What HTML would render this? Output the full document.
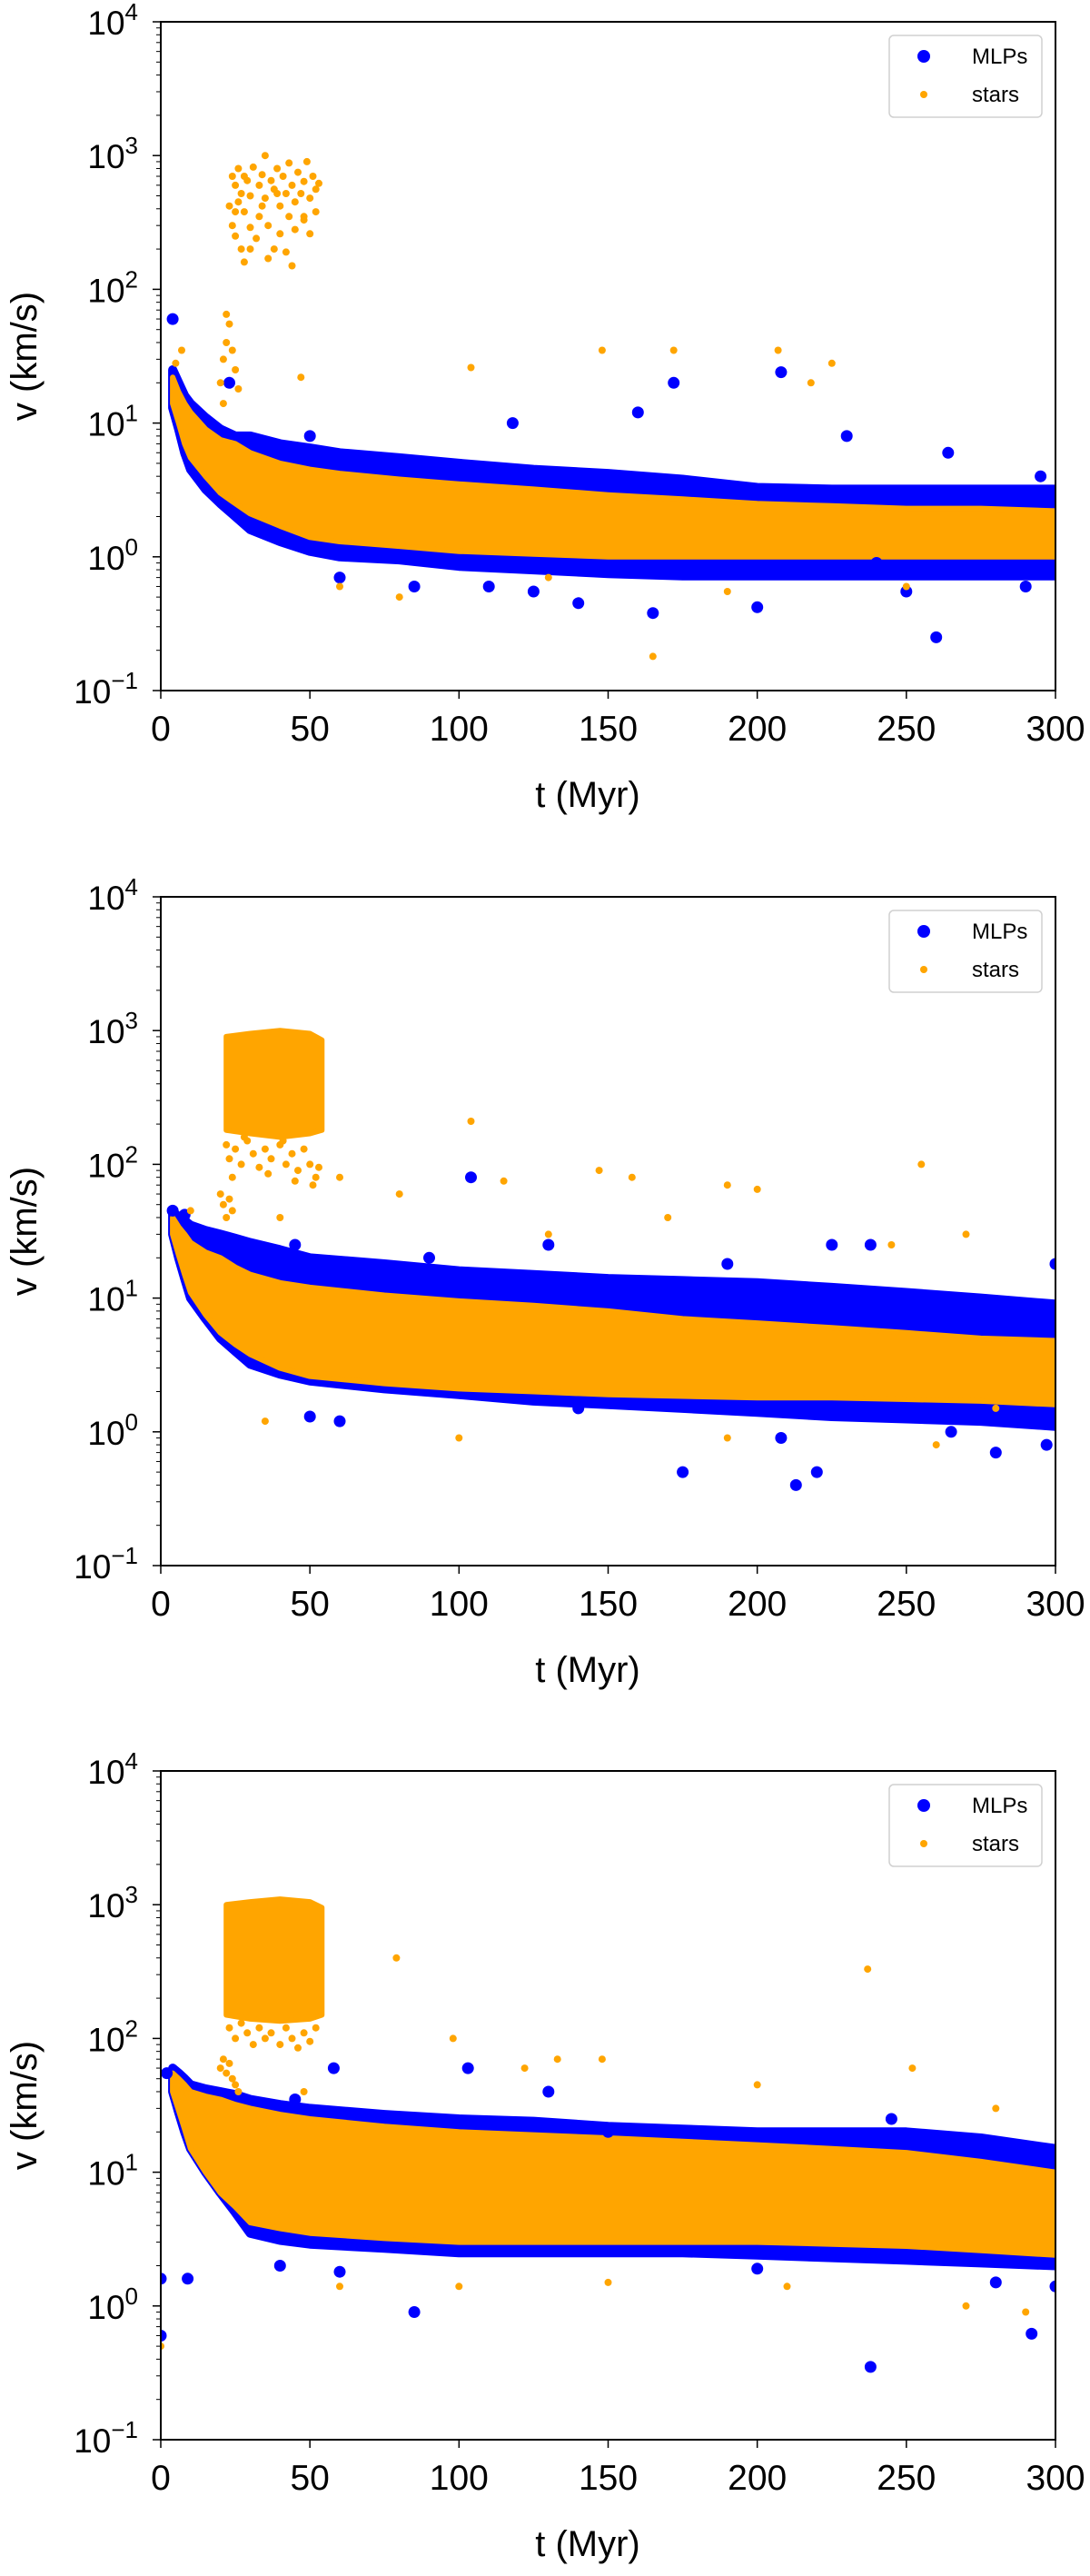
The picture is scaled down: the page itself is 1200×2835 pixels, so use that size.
<!DOCTYPE html>
<html><head><meta charset="utf-8"><style>
body{margin:0;background:#fff;}
svg{display:block;font-family:"Liberation Sans",Arial,sans-serif;}
</style></head><body>
<svg id="chart" width="1200" height="2835" viewBox="0 0 1200 2835" xmlns="http://www.w3.org/2000/svg"></svg>
<script>
// ---------- shared axis data ----------
const xTicks = [0, 50, 100, 150, 200, 250, 300];
const yDecades = [-1, 0, 1, 2, 3, 4];
const panelNames = ['panel-a', 'panel-b', 'panel-c'];

// ---------- panel 1 ----------
const p1BandT = [4, 6, 8, 10, 15, 20, 25, 30, 40, 50, 60, 80, 100, 125, 150, 175, 200, 225, 250, 275, 300];
const p1MlpLo = [13, 9, 6, 4.5, 3.2, 2.5, 2, 1.6, 1.3, 1.1, 1.0, 0.95, 0.85, 0.8, 0.75, 0.72, 0.72, 0.72, 0.72, 0.72, 0.72];
const p1MlpHi = [25, 20, 16, 14, 11, 9, 8, 8, 7, 6.5, 6, 5.5, 5, 4.5, 4.2, 3.8, 3.3, 3.2, 3.2, 3.2, 3.2];
const p1StarLo = [14, 10, 7, 5.5, 4, 3, 2.5, 2.1, 1.7, 1.4, 1.3, 1.2, 1.1, 1.05, 1.0, 1.0, 1.0, 1.0, 1.0, 1.0, 1.0];
const p1StarHi = [22, 17, 14, 12, 9, 7.5, 7, 6, 5, 4.5, 4.2, 3.8, 3.5, 3.2, 2.9, 2.7, 2.5, 2.4, 2.3, 2.3, 2.2];
const p1BurstT = [];
const p1BurstLo = [];
const p1BurstHi = [];
const p1BurstPtsT = [23,24,24,25,25,26,26,27,27,28,28,29,30,30,31,32,33,33,34,35,35,36,37,38,38,39,40,40,41,42,43,43,44,45,45,46,47,48,48,49,50,50,51,52,52,53,28,36,44,30,42,25,34,48,39];
const p1BurstPtsV = [420,700,300,600,250,800,450,520,200,700,380,650,500,290,820,240,600,350,720,480,1000,300,650,560,200,800,420,260,700,520,350,880,600,450,280,750,520,640,350,900,480,260,700,560,380,620,160,170,150,200,190,380,420,330,520];
const p1MlpOutT = [4, 172, 208, 260, 165, 140, 200, 110, 85, 230, 264, 160, 118, 50, 100, 250, 290, 300, 295, 240, 23, 125, 60];
const p1MlpOutV = [60, 20, 24, 0.25, 0.38, 0.45, 0.42, 0.6, 0.6, 8, 6, 12, 10, 8, 0.9, 0.55, 0.6, 2.8, 4, 0.9, 20, 0.55, 0.7];
const p1StarOutT = [165, 148, 172, 207, 225, 218, 104, 47, 60, 80, 130, 250, 7, 5, 20, 21, 22, 23, 24, 22, 25, 21, 26, 190];
const p1StarOutV = [0.18, 35, 35, 35, 28, 20, 26, 22, 0.6, 0.5, 0.7, 0.6, 35, 28, 20, 30, 40, 55, 35, 65, 25, 14, 18, 0.55];

// ---------- panel 2 ----------
const p2BandT = [4, 6, 8, 10, 15, 20, 25, 30, 40, 50, 75, 100, 125, 150, 175, 200, 225, 250, 275, 300];
const p2MlpLo = [30, 20, 14, 10, 7, 5, 4, 3.2, 2.7, 2.4, 2.1, 1.9, 1.7, 1.6, 1.5, 1.4, 1.3, 1.25, 1.2, 1.1];
const p2MlpHi = [45, 40, 38, 35, 32, 30, 28, 26, 23, 20, 18, 16, 15, 14, 13.5, 13, 12, 11, 10, 9];
const p2StarLo = [30, 21, 15, 11, 7.5, 5.5, 4.5, 3.8, 3.0, 2.6, 2.3, 2.1, 2.0, 1.9, 1.85, 1.8, 1.8, 1.75, 1.7, 1.6];
const p2StarHi = [40, 34, 30, 26, 22, 20, 17, 15, 13, 12, 10.5, 9.5, 8.8, 8, 7, 6.5, 6, 5.5, 5, 4.8];
const p2BurstT = [22, 30, 40, 50, 54];
const p2BurstLo = [180, 170, 160, 170, 180];
const p2BurstHi = [900, 950, 1000, 950, 850];
const p2BurstPtsT = [22, 23, 25, 27, 29, 31, 33, 35, 37, 40, 42, 44, 46, 48, 50, 52, 53, 24, 36, 45, 51, 28, 41, 20, 21, 22, 23, 24];
const p2BurstPtsV = [140, 110, 130, 100, 150, 120, 95, 130, 110, 140, 100, 120, 90, 130, 100, 80, 95, 80, 85, 75, 70, 160, 150, 60, 50, 40, 55, 45];
const p2MlpOutT = [104, 175, 213, 220, 208, 280, 297, 265, 60, 50, 140, 28, 45, 90, 130, 225, 238, 190, 300, 4, 8];
const p2MlpOutV = [80, 0.5, 0.4, 0.5, 0.9, 0.7, 0.8, 1.0, 1.2, 1.3, 1.5, 25, 25, 20, 25, 25, 25, 18, 18, 45, 42];
const p2StarOutT = [104, 147, 158, 60, 115, 190, 200, 255, 80, 40, 130, 170, 245, 270, 260, 190, 100, 35, 280, 10];
const p2StarOutV = [210, 90, 80, 80, 75, 70, 65, 100, 60, 40, 30, 40, 25, 30, 0.8, 0.9, 0.9, 1.2, 1.5, 45];

// ---------- panel 3 ----------
const p3BandT = [4, 6, 8, 10, 15, 20, 25, 30, 40, 50, 75, 100, 125, 150, 175, 200, 225, 250, 275, 300];
const p3MlpLo = [40, 28, 20, 15, 10, 7, 5, 3.5, 3.1, 2.9, 2.7, 2.5, 2.5, 2.5, 2.5, 2.4, 2.3, 2.2, 2.1, 2.0];
const p3MlpHi = [60, 55, 50, 45, 42, 40, 38, 35, 32, 30, 27, 25, 24, 22, 21, 20, 20, 20, 18, 15];
const p3StarLo = [40, 29, 21, 15, 10, 7, 5.5, 4.2, 3.8, 3.5, 3.2, 3.0, 3.0, 3.0, 3.0, 3.0, 2.9, 2.8, 2.6, 2.4];
const p3StarHi = [55, 50, 45, 40, 37, 35, 32, 30, 27, 25, 22, 20, 19, 18, 17, 16, 15, 14, 12, 10];
const p3BurstT = [22, 30, 40, 50, 54];
const p3BurstLo = [150, 140, 135, 140, 150];
const p3BurstHi = [1000, 1050, 1100, 1050, 950];
const p3BurstPtsT = [23, 25, 27, 29, 31, 33, 35, 37, 40, 42, 44, 46, 48, 50, 52, 20, 21, 22, 23, 24, 25, 26];
const p3BurstPtsV = [120, 100, 130, 110, 90, 120, 100, 110, 90, 120, 100, 85, 110, 95, 120, 60, 70, 55, 65, 50, 45, 40];
const p3MlpOutT = [0, 0, 9, 238, 292, 85, 58, 103, 45, 130, 245, 150, 300, 280, 200, 40, 60, 2];
const p3MlpOutV = [1.6, 0.6, 1.6, 0.35, 0.62, 0.9, 60, 60, 35, 40, 25, 20, 1.4, 1.5, 1.9, 2.0, 1.8, 55];
const p3StarOutT = [79, 237, 0, 98, 133, 148, 122, 200, 252, 280, 48, 60, 100, 270, 290, 210, 150];
const p3StarOutV = [400, 330, 0.5, 100, 70, 70, 60, 45, 60, 30, 40, 1.4, 1.4, 1.0, 0.9, 1.4, 1.5];

const panels = [
  {top: 24, bandT: p1BandT, mlpLo: p1MlpLo, mlpHi: p1MlpHi, starLo: p1StarLo, starHi: p1StarHi, burstT: p1BurstT, burstLo: p1BurstLo, burstHi: p1BurstHi, bpT: p1BurstPtsT, bpV: p1BurstPtsV, moT: p1MlpOutT, moV: p1MlpOutV, soT: p1StarOutT, soV: p1StarOutV},
  {top: 987, bandT: p2BandT, mlpLo: p2MlpLo, mlpHi: p2MlpHi, starLo: p2StarLo, starHi: p2StarHi, burstT: p2BurstT, burstLo: p2BurstLo, burstHi: p2BurstHi, bpT: p2BurstPtsT, bpV: p2BurstPtsV, moT: p2MlpOutT, moV: p2MlpOutV, soT: p2StarOutT, soV: p2StarOutV},
  {top: 1949, bandT: p3BandT, mlpLo: p3MlpLo, mlpHi: p3MlpHi, starLo: p3StarLo, starHi: p3StarHi, burstT: p3BurstT, burstLo: p3BurstLo, burstHi: p3BurstHi, bpT: p3BurstPtsT, bpV: p3BurstPtsV, moT: p3MlpOutT, moV: p3MlpOutV, soT: p3StarOutT, soV: p3StarOutV}
];

const NS = 'http://www.w3.org/2000/svg';
const svg = document.getElementById('chart');
const L = 177, R = 1162, H = 736;
const BLUE = '#0000ff', ORANGE = '#ffa500';

function mk(tag, attrs, parent) {
  const e = document.createElementNS(NS, tag);
  for (const k in attrs) e.setAttribute(k, attrs[k]);
  parent.appendChild(e);
  return e;
}

panels.forEach((p, pi) => {
  const top = p.top, bottom = top + H;
  const xS = t => L + (t / 300) * (R - L);
  const yS = v => top + (4 - Math.log10(v)) / 5 * H;

  const g = mk('g', {}, svg);
  
  

  const clipId = 'clip' + pi;
  const defs = mk('defs', {}, g);
  const cp = mk('clipPath', {id: clipId}, defs);
  mk('rect', {x: L, y: top, width: R - L, height: H}, cp);
  const plot = mk('g', {'clip-path': 'url(#' + clipId + ')'}, g);
  
  

  function band(T, lo, hi, color, sw, name) {
    if (!T.length) return;
    let d = '';
    T.forEach((t, i) => { d += (i ? 'L' : 'M') + xS(t).toFixed(1) + ',' + yS(hi[i]).toFixed(1); });
    for (let i = T.length - 1; i >= 0; i--) d += 'L' + xS(T[i]).toFixed(1) + ',' + yS(lo[i]).toFixed(1);
    d += 'Z';
    const e = mk('path', {d: d, fill: color, stroke: color, 'stroke-width': sw, 'stroke-linejoin': 'round'}, plot);
    
    
  }
  function dots(T, V, r, color, name) {
    T.forEach((t, i) => {
      const c = mk('circle', {cx: xS(t).toFixed(1), cy: yS(V[i]).toFixed(1), r: r, fill: color}, plot);
      
      
    });
  }

  band(p.bandT, p.mlpLo, p.mlpHi, BLUE, 10, 'mlp-band');
  band(p.bandT, p.starLo, p.starHi, ORANGE, 6, 'stars-band');
  dots(p.moT, p.moV, 6.5, BLUE, 'mlp-point');
  band(p.burstT, p.burstLo, p.burstHi, ORANGE, 6, 'stars-burst');
  dots(p.bpT, p.bpV, 4, ORANGE, 'stars-burst-point');
  dots(p.soT, p.soV, 4, ORANGE, 'stars-point');

  // frame
  const fr = mk('rect', {x: L, y: top, width: R - L, height: H, fill: 'none', stroke: '#000', 'stroke-width': 2}, g);
  
  

  // x ticks
  xTicks.forEach(t => {
    const x = xS(t);
    const tk = mk('line', {x1: x, x2: x, y1: bottom, y2: bottom + 9, stroke: '#000', 'stroke-width': 1.5}, g);
    
    
    const tx = mk('text', {x: x, y: bottom + 55, 'font-size': 39, 'text-anchor': 'middle', fill: '#000'}, g);
    
    
    tx.textContent = t;
  });

  // y ticks
  yDecades.forEach(dcd => {
    const y = yS(Math.pow(10, dcd));
    const tk = mk('line', {x1: L - 9, x2: L, y1: y, y2: y, stroke: '#000', 'stroke-width': 1.5}, g);
    
    
    if (dcd < 4) {
      for (let m = 2; m <= 9; m++) {
        const ym = yS(m * Math.pow(10, dcd));
        const mt = mk('line', {x1: L - 5, x2: L, y1: ym, y2: ym, stroke: '#000', 'stroke-width': 1}, g);
        
        
      }
    }
    const tx = mk('text', {x: 152, y: y + 14, 'font-size': 37, 'text-anchor': 'end', fill: '#000'}, g);
    
    
    const a = mk('tspan', {}, tx); a.textContent = '10';
    const b = mk('tspan', {dy: -16, 'font-size': 26}, tx); b.textContent = dcd < 0 ? '\u2212' + (-dcd) : String(dcd);
  });

  // axis titles
  const xl = mk('text', {x: 647, y: bottom + 128, 'font-size': 40, 'text-anchor': 'middle', fill: '#000'}, g);
  
  
  xl.textContent = 't (Myr)';
  const yl = mk('text', {x: 0, y: 0, 'font-size': 40, 'text-anchor': 'middle', fill: '#000', transform: 'translate(40,' + (top + H / 2) + ') rotate(-90)'}, g);
  
  
  yl.textContent = 'v (km/s)';

  // legend
  const lg = mk('g', {}, g);
  
  
  mk('rect', {x: 979, y: top + 15, width: 168, height: 90, rx: 5, fill: '#fff', 'fill-opacity': 0.8, stroke: '#d0d0d0', 'stroke-width': 1.5}, lg);
  const e1 = mk('circle', {cx: 1017, cy: top + 38, r: 7, fill: BLUE}, lg);
  
  
  const t1 = mk('text', {x: 1070, y: top + 46, 'font-size': 24, fill: '#000'}, lg);
  
  
  t1.textContent = 'MLPs';
  const e2 = mk('circle', {cx: 1017, cy: top + 80, r: 4, fill: ORANGE}, lg);
  
  
  const t2 = mk('text', {x: 1070, y: top + 88, 'font-size': 24, fill: '#000'}, lg);
  
  
  t2.textContent = 'stars';
});
</script>
</body></html>
